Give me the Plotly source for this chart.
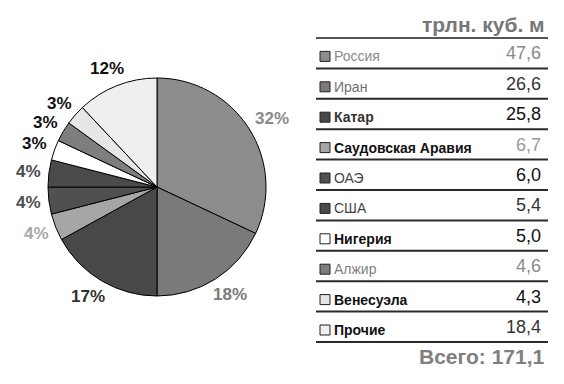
import math
import plotly.graph_objects as go

W, H = 564, 384

countries = ["Россия", "Иран", "Катар", "Саудовская Аравия", "ОАЭ", "США",
             "Нигерия", "Алжир", "Венесуэла", "Прочие"]
reserves = ["47,6", "26,6", "25,8", "6,7", "6,0", "5,4", "5,0", "4,6", "4,3", "18,4"]
pie_shares = [32, 18, 17, 4, 4, 4, 3, 3, 3, 12]
pie_labels = ["32%", "18%", "17%", "4%", "4%", "4%", "3%", "3%", "3%", "12%"]
unit_title = "трлн. куб. м"
total_text = "Всего: 171,1"

slice_colors = ["#8c8c8c", "#7a7a7a", "#484848", "#a6a6a6", "#505050",
                "#4a4a4a", "#ffffff", "#7e7e7e", "#e6e6e6", "#efefef"]
pct_colors = ["#8a8a8a", "#7a7a7a", "#303030", "#a8a8a8", "#505050",
              "#4a4a4a", "#111111", "#111111", "#111111", "#111111"]
name_colors = ["#8a8a8a", "#707070", "#333333", "#111111", "#444444",
               "#444444", "#111111", "#808080", "#111111", "#111111"]
name_bold = [False, False, True, True, False, False, True, False, True, True]
value_colors = ["#8a8a8a", "#333333", "#111111", "#999999", "#111111",
                "#333333", "#111111", "#8a8a8a", "#111111", "#333333"]

FONT = "Liberation Sans, Arial, sans-serif"

def px(x):
    return x / W

def py(y):
    return 1 - y / H

# pie geometry (pixels)
cx, cy, R = 157, 187, 109

fig = go.Figure()
fig.add_trace(go.Pie(
    values=pie_shares, labels=countries, sort=False, direction="clockwise",
    rotation=0, textinfo="none", hoverinfo="label+percent",
    marker=dict(colors=slice_colors, line=dict(color="#000000", width=1)),
    domain=dict(x=[px(cx - R), px(cx + R)], y=[py(cy + R), py(cy - R)]),
    showlegend=False,
))

annotations = []
shapes = []

# percentage labels around the pie
total = sum(pie_shares)
cum = 0
for share, lab, col in zip(pie_shares, pie_labels, pct_colors):
    mid = (cum + share / 2) / total * 2 * math.pi
    cum += share
    dx, dy = math.sin(mid), -math.cos(mid)
    w = 11.5 * len(lab) - 1
    h = 16
    r_anchor = 119
    x = cx + r_anchor * dx + dx * w / 2
    y = cy + r_anchor * dy + dy * h / 2
    annotations.append(dict(
        x=px(x), y=py(y), xref="paper", yref="paper", text="<b>%s</b>" % lab,
        showarrow=False, xanchor="center", yanchor="middle",
        font=dict(family=FONT, size=17, color=col)))

# table
x0, x1 = 316, 548
top_line = 38
step = 30.4
annotations.append(dict(
    x=px(547), y=py(25), xref="paper", yref="paper", text="<b>%s</b>" % unit_title,
    showarrow=False, xanchor="right", yanchor="middle",
    font=dict(family=FONT, size=21, color="#777777")))
shapes.append(dict(type="line", xref="paper", yref="paper",
                   x0=px(x0), x1=px(x1), y0=py(top_line), y1=py(top_line),
                   line=dict(color="#555555", width=2)))

for i, (name, val) in enumerate(zip(countries, reserves)):
    yl = top_line + step * (i + 1)
    shapes.append(dict(type="line", xref="paper", yref="paper",
                       x0=px(x0), x1=px(x1), y0=py(yl), y1=py(yl),
                       line=dict(color="#2a2a2a", width=2)))
    ty = yl - 12
    shapes.append(dict(type="rect", xref="paper", yref="paper",
                       x0=px(320), x1=px(330), y0=py(ty + 5), y1=py(ty - 5),
                       fillcolor=slice_colors[i],
                       line=dict(color="#222222", width=1)))
    txt = "<b>%s</b>" % name if name_bold[i] else name
    annotations.append(dict(
        x=px(332), y=py(ty), xref="paper", yref="paper", text=txt,
        showarrow=False, xanchor="left", yanchor="middle",
        font=dict(family=FONT, size=14, color=name_colors[i])))
    annotations.append(dict(
        x=px(543), y=py(yl - 15), xref="paper", yref="paper", text=val,
        showarrow=False, xanchor="right", yanchor="middle",
        font=dict(family=FONT, size=18, color=value_colors[i])))

annotations.append(dict(
    x=px(547), y=py(356), xref="paper", yref="paper", text="<b>%s</b>" % total_text,
    showarrow=False, xanchor="right", yanchor="middle",
    font=dict(family=FONT, size=21, color="#808080")))

fig.update_layout(
    width=W, height=H, margin=dict(l=0, r=0, t=0, b=0),
    paper_bgcolor="white", plot_bgcolor="white",
    annotations=annotations, shapes=shapes,
)

fig.write_html("out.html", config={"displayModeBar": False},
               post_script="document.body.style.margin='0px';document.body.style.overflow='hidden';")
